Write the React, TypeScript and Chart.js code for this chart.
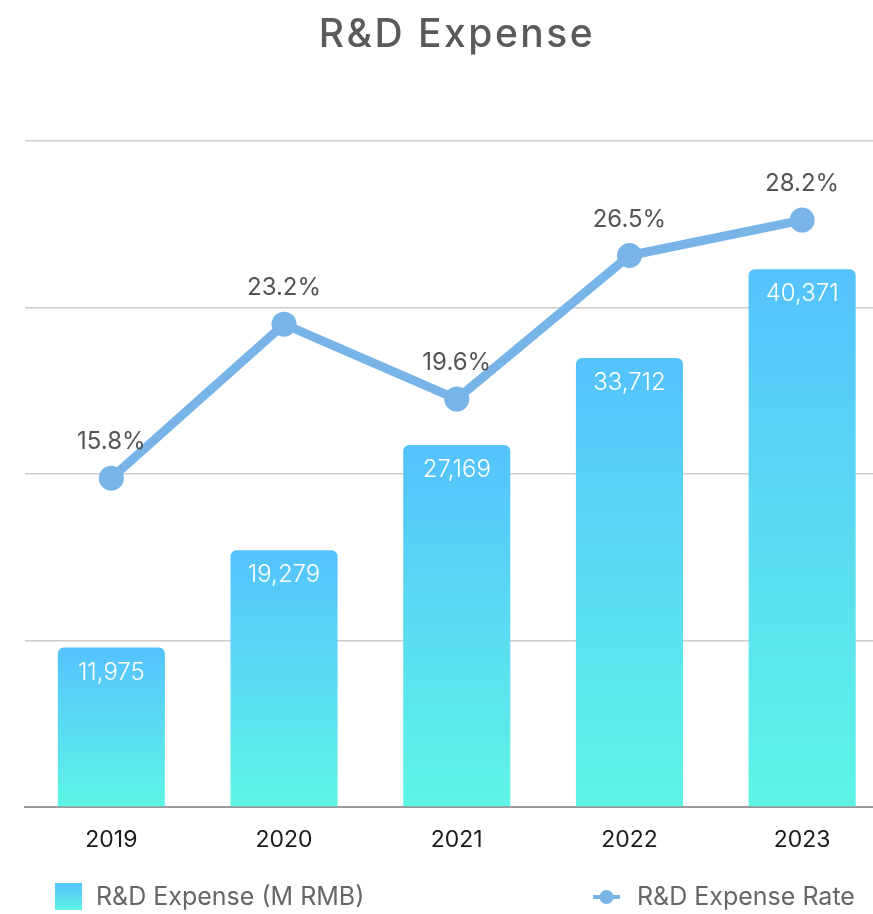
import React, { useEffect, useRef } from "react";
import { Chart, registerables } from "chart.js";
Chart.register(...registerables);

const categories = ["2019", "2020", "2021", "2022", "2023"];
const expense = [11975, 19279, 27169, 33712, 40371];
const rate = [15.8, 23.2, 19.6, 26.5, 28.2];
const title = "R&D Expense";
const barLabel = "R&D Expense (M RMB)";
const lineLabel = "R&D Expense Rate";

const FONT = "Inter, 'Open Sans', sans-serif";
const LINE_COLOR = "#78b4e8";

export default function App() {
  const ref = useRef<HTMLCanvasElement | null>(null);
  useEffect(() => {
    const canvas = ref.current!;
    const makeGrad = (ctx: CanvasRenderingContext2D, top: number, bottom: number) => {
      const g = ctx.createLinearGradient(0, top, 0, bottom);
      g.addColorStop(0, "#55c2fd");
      g.addColorStop(1, "#5ef5e5");
      return g;
    };
    const overlay = {
      id: "overlay",
      afterDatasetsDraw(chart: any) {
        const ctx = chart.ctx as CanvasRenderingContext2D;
        ctx.save();
        const barMeta = chart.getDatasetMeta(0);
        ctx.font = `300 24px ${FONT}`;
        ctx.fillStyle = "#ffffff";
        ctx.textAlign = "center";
        ctx.textBaseline = "middle";
        barMeta.data.forEach((el: any, i: number) => {
          ctx.fillText(expense[i].toLocaleString("en-US"), el.x, el.y + 25);
        });
        const lineMeta = chart.getDatasetMeta(1);
        ctx.font = `400 24px ${FONT}`;
        ctx.fillStyle = "#555555";
        lineMeta.data.forEach((el: any, i: number) => {
          ctx.fillText(rate[i].toFixed(1) + "%", el.x, el.y - 36);
        });
        ctx.restore();
      },
      afterDraw(chart: any) {
        const ctx = chart.ctx as CanvasRenderingContext2D;
        ctx.save();
        ctx.font = `500 39px ${FONT}`;
        (ctx as any).letterSpacing = "2.5px";
        ctx.fillStyle = "#5a5a5a";
        ctx.textAlign = "center";
        ctx.textBaseline = "middle";
        ctx.fillText(title, 457, 35);
        (ctx as any).letterSpacing = "0px";
        ctx.fillStyle = makeGrad(ctx, 883, 910);
        ctx.fillRect(55, 883, 27, 27);
        ctx.font = `400 25px ${FONT}`;
        ctx.fillStyle = "#666666";
        ctx.textAlign = "left";
        ctx.fillText(barLabel, 96, 897);
        ctx.strokeStyle = LINE_COLOR;
        ctx.lineWidth = 4;
        ctx.beginPath();
        ctx.moveTo(593, 897);
        ctx.lineTo(620, 897);
        ctx.stroke();
        ctx.fillStyle = LINE_COLOR;
        ctx.beginPath();
        ctx.arc(606.5, 897, 7, 0, Math.PI * 2);
        ctx.fill();
        ctx.fillStyle = "#666666";
        ctx.fillText(lineLabel, 637, 897);
        ctx.restore();
      },
    };
    const chart = new Chart(canvas, {
      data: {
        labels: categories,
        datasets: [
          {
            type: "bar",
            label: barLabel,
            data: expense,
            yAxisID: "y",
            order: 2,
            backgroundColor: (c: any) => {
              const ca = c.chart.chartArea;
              if (!ca) return "#55c2fd";
              const el = c.element;
              const top = el && el.y !== undefined ? el.y : ca.top;
              return makeGrad(c.chart.ctx, Math.min(top, ca.bottom - 1), ca.bottom);
            },
            borderRadius: { topLeft: 6, topRight: 6, bottomLeft: 0, bottomRight: 0 },
            borderSkipped: false,
            categoryPercentage: 1,
            barPercentage: 0.62,
          } as any,
          {
            type: "line",
            label: lineLabel,
            data: rate,
            yAxisID: "y1",
            order: 1,
            borderColor: LINE_COLOR,
            backgroundColor: LINE_COLOR,
            borderWidth: 9,
            pointRadius: 12.5,
            pointHoverRadius: 12.5,
            pointBackgroundColor: LINE_COLOR,
            pointBorderWidth: 0,
            tension: 0,
          } as any,
        ],
      },
      options: {
        animation: false,
        responsive: false,
        events: [],
        layout: { padding: { top: 141, left: 25, right: 3, bottom: 0 } },
        plugins: {
          legend: { display: false },
          tooltip: { enabled: false },
          title: { display: false },
        },
        scales: {
          x: {
            grid: { display: false, drawTicks: false },
            border: { display: true, color: "#9a9a9a", width: 2 },
            ticks: {
              color: "#1a1a1a",
              font: { family: FONT, size: 23 },
              padding: 19,
            },
            afterFit: (axis: any) => {
              axis.height = 107;
            },
          },
          y: {
            min: 0,
            max: 50000,
            ticks: { display: false, stepSize: 12500 },
            grid: {
              drawTicks: false,
              color: "#cccccc",
              lineWidth: 1.5,
            },
            border: { display: false },
          },
          y1: {
            display: false,
            min: 0,
            max: 32,
            position: "right",
          },
        },
      } as any,
      plugins: [overlay],
    });
    chart.update("none");
    return () => chart.destroy();
  }, []);
  return (
    <div
      style={{
        position: "fixed",
        left: 0,
        top: 0,
        width: 873,
        height: 914,
        overflow: "hidden",
        background: "#fff",
      }}
    >
      <canvas ref={ref} width={901} height={914} style={{ display: "block", width: 901, height: 914 }} />
    </div>
  );
}
